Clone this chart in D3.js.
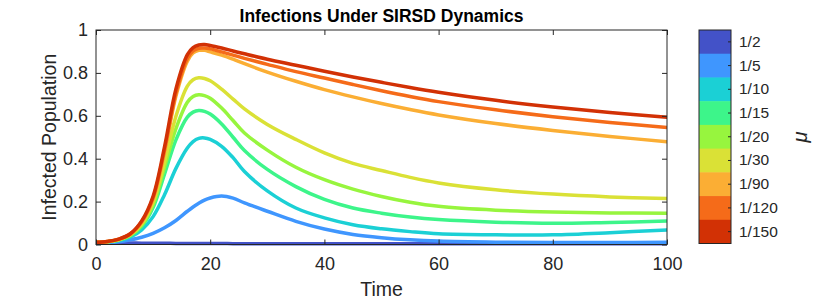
<!DOCTYPE html>
<meta charset="utf-8">
<style>
body{ margin:0; background:#fff; }
text{ font-family:"Liberation Sans", Arial, sans-serif; fill:#262626; }
.tick text{ font-size:18px; }
.cbar .tick text{ font-size:15.5px; }
.series{ fill:none; stroke-width:3.5px; stroke-linejoin:round; stroke-linecap:round; }
</style>
<body>
<div id="chart"></div>
<script src="https://cdn.jsdelivr.net/npm/d3@7"></script>
<script>
// sample times (shared by every curve)
var times = [0,2,4,6,8,10,12,14,16,17,18,19,20,22,24,26,30,35,40,45,50,55,60,70,80,90,100];

// mu values, colours and infected fraction
var muLabels = ["1/2","1/5","1/10","1/15","1/20","1/30","1/90","1/120","1/150"];
var muColors = ["#4352c8","#3f96fe","#1bd0d5","#3df58a","#97f53e","#dae136","#fbae34","#f56b19","#d23105"];

var mu2   = [0.008,0.008,0.007,0.007,0.006,0.006,0.006,0.005,0.005,0.005,0.005,0.005,0.005,0.005,0.004,0.004,0.004,0.004,0.004,0.004,0.004,0.004,0.004,0.004,0.004,0.004,0.004];
var mu5   = [0.005,0.008,0.013,0.022,0.034,0.052,0.078,0.112,0.155,0.175,0.192,0.207,0.217,0.226,0.216,0.194,0.155,0.108,0.072,0.047,0.032,0.022,0.016,0.011,0.009,0.009,0.010];
var mu10  = [0.010,0.012,0.019,0.034,0.068,0.130,0.232,0.355,0.450,0.480,0.495,0.497,0.490,0.458,0.405,0.340,0.250,0.170,0.124,0.092,0.073,0.060,0.050,0.045,0.045,0.055,0.068];
var mu15  = [0.010,0.013,0.021,0.040,0.084,0.172,0.328,0.488,0.594,0.617,0.625,0.621,0.608,0.562,0.500,0.438,0.350,0.270,0.210,0.170,0.146,0.128,0.116,0.104,0.099,0.103,0.109];
var mu20  = [0.010,0.013,0.022,0.043,0.090,0.186,0.360,0.540,0.663,0.690,0.698,0.694,0.682,0.636,0.578,0.520,0.440,0.360,0.302,0.258,0.224,0.197,0.178,0.160,0.151,0.147,0.146];
var mu30  = [0.010,0.013,0.023,0.045,0.096,0.198,0.385,0.598,0.738,0.768,0.777,0.774,0.763,0.724,0.678,0.632,0.560,0.490,0.427,0.378,0.345,0.313,0.287,0.255,0.235,0.222,0.214];
var mu90  = [0.010,0.014,0.024,0.048,0.103,0.212,0.430,0.692,0.855,0.893,0.905,0.905,0.898,0.883,0.864,0.843,0.804,0.761,0.722,0.688,0.657,0.629,0.604,0.564,0.532,0.504,0.479];
var mu120 = [0.010,0.014,0.025,0.049,0.106,0.218,0.440,0.705,0.868,0.903,0.915,0.916,0.912,0.898,0.883,0.868,0.840,0.806,0.776,0.746,0.717,0.690,0.666,0.628,0.596,0.569,0.546];
var mu150 = [0.010,0.014,0.025,0.050,0.110,0.225,0.455,0.725,0.885,0.918,0.930,0.932,0.928,0.916,0.902,0.889,0.864,0.836,0.808,0.781,0.756,0.732,0.710,0.672,0.641,0.615,0.593];

var seriesValues = [mu2,mu5,mu10,mu15,mu20,mu30,mu90,mu120,mu150];

var xTicks = [0,20,40,60,80,100];
var yTicks = [0,0.2,0.4,0.6,0.8,1];

var W = 840, H = 300;
var m = {left:96, right:173, top:30, bottom:55.5};
var pw = W - m.left - m.right, ph = H - m.top - m.bottom;

var svg = d3.select("#chart").append("svg").attr("width", W).attr("height", H);
var g = svg.append("g").attr("transform","translate("+m.left+","+m.top+")");

var x = d3.scaleLinear().domain([0,100]).range([0,pw]);
var y = d3.scaleLinear().domain([0,1]).range([ph,0]);

var line = d3.line()
    .x(function(d){ return x(d[0]); })
    .y(function(d){ return y(d[1]); })
    .curve(d3.curveCatmullRom.alpha(0.5));

g.append("defs").append("clipPath").attr("id","clip")
  .append("rect").attr("width",pw).attr("height",ph+2);

var curves = g.append("g").attr("clip-path","url(#clip)");
seriesValues.forEach(function(vals,i){
    curves.append("path").attr("class","series")
        .attr("stroke", muColors[i])
        .attr("d", line(times.map(function(t,k){ return [t, vals[k]]; })));
});

// axes, matlab style: box with inward ticks on all four sides
function styleAxis(sel){
    sel.select(".domain").remove();
    sel.selectAll(".tick line").attr("stroke","#262626");
}
g.append("g").attr("transform","translate(0,"+ph+")")
  .call(d3.axisBottom(x).tickValues(xTicks).tickSizeInner(-5).tickPadding(13))
  .call(styleAxis);
g.append("g")
  .call(d3.axisTop(x).tickValues(xTicks).tickSizeInner(-5).tickFormat(""))
  .call(styleAxis);
g.append("g")
  .call(d3.axisLeft(y).tickValues(yTicks).tickSizeInner(-5).tickPadding(8).tickFormat(d3.format("~g")))
  .call(styleAxis);
g.append("g").attr("transform","translate("+pw+",0)")
  .call(d3.axisRight(y).tickValues(yTicks).tickSizeInner(-5).tickFormat(""))
  .call(styleAxis);

g.append("rect").attr("width",pw).attr("height",ph)
  .attr("fill","none").attr("stroke","#262626").attr("stroke-width",1);

// labels
svg.append("text").attr("x", m.left+pw/2).attr("y",22)
  .attr("text-anchor","middle").style("font-size","17.5px").style("font-weight","bold")
  .style("fill","#000").text("Infections Under SIRSD Dynamics");
svg.append("text").attr("x", m.left+pw/2).attr("y",296)
  .attr("text-anchor","middle").style("font-size","19.5px").text("Time");
svg.append("text").attr("transform","translate(56,"+(m.top+ph/2)+") rotate(-90)")
  .attr("text-anchor","middle").style("font-size","19.5px").text("Infected Population");

// colorbar
var cb = svg.append("g").attr("class","cbar").attr("transform","translate(699,30)");
var cbW = 32, cbH = 213.5;
var cy = d3.scaleBand().domain(muLabels).range([0,cbH]).padding(0);
cb.selectAll("rect.band").data(muLabels).enter().append("rect")
  .attr("class","band")
  .attr("x",0).attr("y",function(d){ return cy(d); })
  .attr("width",cbW).attr("height",cy.bandwidth()+0.5)
  .attr("fill",function(d,i){ return muColors[i]; });
cb.append("rect").attr("width",cbW).attr("height",cbH)
  .attr("fill","none").attr("stroke","#262626").attr("stroke-width",1);
cb.append("g").attr("transform","translate("+cbW+",0)")
  .call(d3.axisRight(cy).tickSizeInner(-3).tickSizeOuter(0).tickPadding(8))
  .call(styleAxis);

svg.append("text").attr("transform","translate(807,137) rotate(-90)")
  .attr("text-anchor","middle").style("font-size","20px").style("font-style","italic")
  .text("\u03bc");
</script>
</body>
</html>
